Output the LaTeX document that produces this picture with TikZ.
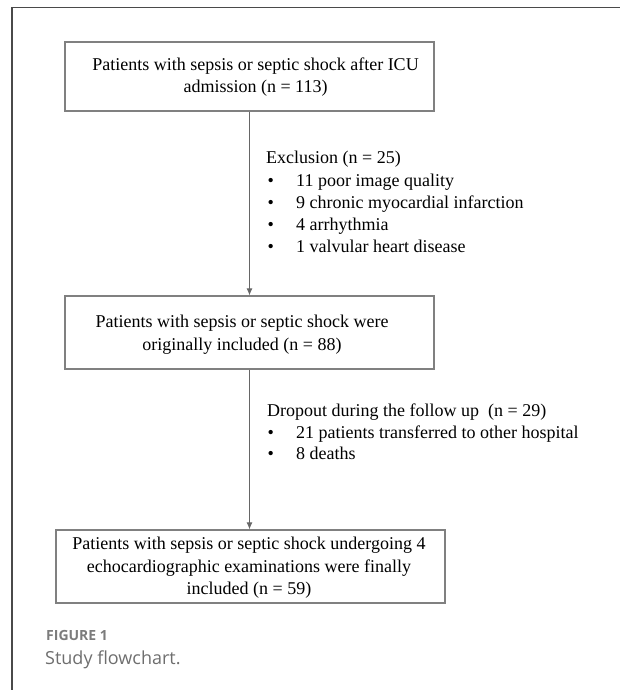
\documentclass[tikz,border=0pt]{standalone}
\usepackage{fontspec}
\setmainfont{Liberation Serif}
\newfontfamily\capfont{Open Sans}
\usetikzlibrary{arrows.meta}
\definecolor{boxgray}{HTML}{808080}
\definecolor{framegray}{HTML}{4A4A4A}
\definecolor{capgray}{HTML}{6E6E6E}
\begin{document}
\begin{tikzpicture}[x=1pt,y=-1pt,
  flowbox/.style={draw=boxgray, line width=1.3pt, minimum width=#1, inner sep=0pt},
  boxtext/.style={font=\fontsize{18}{22.5}\selectfont, align=center, inner sep=0pt, text=black},
  itemtext/.style={font=\fontsize{18}{22}\selectfont, inner sep=0pt, anchor=base west, text=black},
  arr/.style={draw=boxgray!80!black, line width=0.9pt, -{Latex[length=7pt,width=6pt]}}
]
\useasboundingbox (0,0) rectangle (620,690);
% outer frame (only top and left visible)
\draw[framegray, line width=1.4pt] (620,7.5) -- (12,7.5) -- (12,690);

% boxes
\node[flowbox=369pt, minimum height=69pt] (box1) at (249.5,76.5) {};
\node[flowbox=369pt, minimum height=73pt] (box2) at (249.5,332.5) {};
\node[flowbox=389pt, minimum height=73pt] (box3) at (250.5,566.5) {};

% box texts
\node[boxtext] (t1) at (255.5,77) {Patients with sepsis or septic shock after ICU\\admission (n = 113)};
\node[boxtext] (t2) at (242,334.5) {Patients with sepsis or septic shock were\\originally included (n = 88)};
\node[boxtext] (t3) at (249,568) {Patients with sepsis or septic shock undergoing 4\\echocardiographic examinations were finally\\included (n = 59)};

% arrows
\draw[arr] (box1.south) -- (box1.south |- box2.north);
\draw[arr] (box2.south) -- (box2.south |- box3.north);

% exclusion list
\node[itemtext] (ex0) at (266,163.5) {Exclusion (n = 25)};
\node[itemtext] (ex1) at (266,186.5) {\hspace*{1.5pt}\makebox[28.5pt][l]{\textbullet}11 poor image quality};
\node[itemtext] (ex2) at (266,208.5) {\hspace*{1.5pt}\makebox[28.5pt][l]{\textbullet}9 chronic myocardial infarction};
\node[itemtext] (ex3) at (266,230.5) {\hspace*{1.5pt}\makebox[28.5pt][l]{\textbullet}4 arrhythmia};
\node[itemtext] (ex4) at (266,252.5) {\hspace*{1.5pt}\makebox[28.5pt][l]{\textbullet}1 valvular heart disease};

% dropout list
\node[itemtext] (dr0) at (267,416.5) {Dropout during the follow up\ \ (n = 29)};
\node[itemtext] (dr1) at (266,438.5) {\hspace*{1.5pt}\makebox[28.5pt][l]{\textbullet}21 patients transferred to other hospital};
\node[itemtext] (dr2) at (266,459.5) {\hspace*{1.5pt}\makebox[28.5pt][l]{\textbullet}8 deaths};

% caption
\node[anchor=base west, inner sep=0pt, font=\capfont\bfseries\fontsize{14}{16}\selectfont, text=capgray!90] (fig) at (46,640) {FIGURE 1};
\node[anchor=base west, inner sep=0pt, font=\capfont\fontsize{18}{20}\selectfont, text=capgray] (cap) at (45,664) {Study flowchart.};
\end{tikzpicture}
\end{document}
